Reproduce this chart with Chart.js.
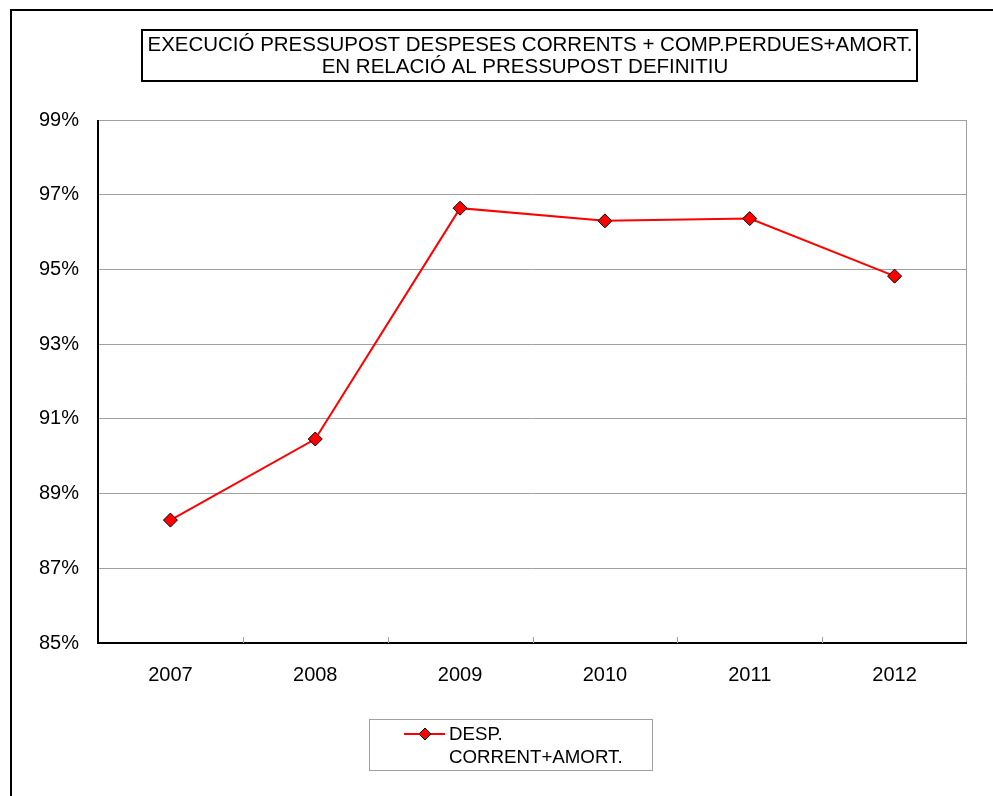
<!DOCTYPE html>
<html>
<head>
<meta charset="utf-8">
<script src="https://cdn.jsdelivr.net/npm/chart.js@4/dist/chart.umd.min.js"></script>
<style>
  html, body { margin: 0; padding: 0; background: #fff; }
  #wrap { width: 993px; height: 796px; position: relative; }
</style>
</head>
<body>
<div id="wrap"><canvas id="lineChart"></canvas></div>
<script>
// data
const years = ['2007', '2008', '2009', '2010', '2011', '2012'];
const despCorrent = [88.29, 90.46, 96.64, 96.30, 96.36, 94.82];
const seriesLabel = ['DESP.', 'CORRENT+AMORT.'];
const titleLines = ['EXECUCIÓ PRESSUPOST DESPESES CORRENTS + COMP.PERDUES+AMORT.', 'EN RELACIÓ AL PRESSUPOST DEFINITIU'];
const yMin = 85, yMax = 99, yStep = 2;

const FONT = '"Liberation Sans", Arial, sans-serif';

// outer frame, title box, plot frame, legend
const decor = {
  id: 'decor',
  beforeDraw(chart) {
    const ctx = chart.ctx;
    ctx.save();
    ctx.fillStyle = '#fff';
    ctx.fillRect(0, 0, chart.width, chart.height);
    ctx.strokeStyle = '#000';
    ctx.lineWidth = 2;
    ctx.beginPath();
    ctx.moveTo(11, 800);
    ctx.lineTo(11, 10);
    ctx.lineTo(1000, 10);
    ctx.stroke();
    ctx.restore();
  },
  afterDraw(chart) {
    const ctx = chart.ctx;
    const a = chart.chartArea;
    ctx.save();
    // plot frame: grey top/right, black left/bottom
    ctx.strokeStyle = '#a0a0a0';
    ctx.lineWidth = 1;
    ctx.beginPath();
    ctx.moveTo(a.left, a.top + 0.5);
    ctx.lineTo(a.right - 0.5, a.top + 0.5);
    ctx.lineTo(a.right - 0.5, a.bottom);
    ctx.stroke();
    ctx.strokeStyle = '#000';
    ctx.lineWidth = 2;
    ctx.beginPath();
    ctx.moveTo(a.left, a.top);
    ctx.lineTo(a.left, a.bottom);
    ctx.lineTo(a.right, a.bottom);
    ctx.stroke();

    // x category tick marks (inside, at boundaries)
    const xs = chart.scales.x;
    ctx.strokeStyle = '#a0a0a0';
    ctx.lineWidth = 1;
    for (let i = 1; i < years.length; i++) {
      const x = Math.round((xs.getPixelForValue(i - 1) + xs.getPixelForValue(i)) / 2) + 0.5;
      ctx.beginPath();
      ctx.moveTo(x, a.bottom);
      ctx.lineTo(x, a.bottom - 6);
      ctx.stroke();
    }

    // title box
    ctx.fillStyle = '#fff';
    ctx.fillRect(142, 30, 775, 51);
    ctx.strokeStyle = '#000';
    ctx.lineWidth = 2;
    ctx.strokeRect(142, 30, 775, 51);
    ctx.fillStyle = '#000';
    ctx.textAlign = 'center';
    ctx.textBaseline = 'middle';
    ctx.font = '20.5px ' + FONT;
    ctx.fillText(titleLines[0], 530, 45, 765);
    ctx.fillText(titleLines[1], 525, 67);

    // legend
    ctx.strokeStyle = '#a0a0a0';
    ctx.lineWidth = 1;
    ctx.strokeRect(369.5, 719.5, 283, 51);
    ctx.strokeStyle = '#ff0000';
    ctx.lineWidth = 2;
    ctx.beginPath();
    ctx.moveTo(404, 734);
    ctx.lineTo(445, 734);
    ctx.stroke();
    drawDiamond(ctx, 425, 734, 6);
    ctx.fillStyle = '#000';
    ctx.textAlign = 'left';
    ctx.font = '18.7px ' + FONT;
    ctx.fillText(seriesLabel[0], 449, 735);
    ctx.fillText(seriesLabel[1], 449, 758);
    ctx.restore();
  }
};

function drawDiamond(ctx, x, y, r) {
  ctx.beginPath();
  ctx.moveTo(x, y - r);
  ctx.lineTo(x + r, y);
  ctx.lineTo(x, y + r);
  ctx.lineTo(x - r, y);
  ctx.closePath();
  ctx.fillStyle = '#ff0000';
  ctx.fill();
  ctx.strokeStyle = '#000';
  ctx.lineWidth = 1;
  ctx.stroke();
}

new Chart(document.getElementById('lineChart'), {
  type: 'line',
  data: {
    labels: years,
    datasets: [{
      label: seriesLabel.join(' '),
      data: despCorrent,
      borderColor: '#ff0000',
      borderWidth: 2,
      tension: 0,
      pointStyle: 'rectRot',
      pointRadius: 7,
      pointBackgroundColor: '#ff0000',
      pointBorderColor: '#000',
      pointBorderWidth: 1
    }]
  },
  options: {
    responsive: true,
    maintainAspectRatio: false,
    animation: false,
    layout: { padding: { left: 0, top: 120, right: 26, bottom: 113 } },
    plugins: {
      legend: { display: false },
      title: { display: false },
      tooltip: { enabled: false }
    },
    scales: {
      x: {
        offset: true,
        grid: { display: false },
        border: { display: false },
        ticks: { color: '#000', font: { family: FONT, size: 20 }, padding: 12, maxRotation: 0 },
        afterFit(scale) { scale.height = 40; }
      },
      y: {
        min: yMin,
        max: yMax,
        grid: { color: '#a0a0a0', lineWidth: 1, drawTicks: false },
        border: { display: false },
        ticks: {
          stepSize: yStep,
          color: '#000',
          font: { family: FONT, size: 20 },
          padding: 19,
          callback: v => v + '%'
        },
        afterFit(scale) { scale.width = 98; }
      }
    }
  },
  plugins: [decor]
});
</script>
</body>
</html>
